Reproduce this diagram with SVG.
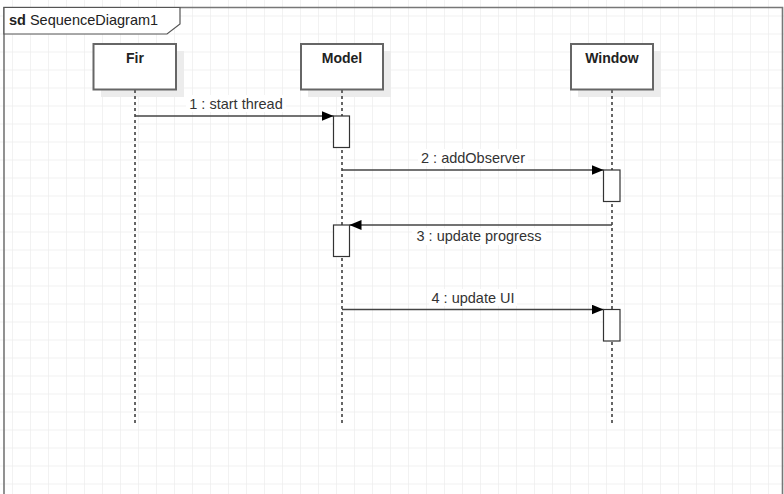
<svg xmlns="http://www.w3.org/2000/svg" width="784" height="494" viewBox="0 0 784 494">
<defs>
<pattern id="grid" x="-5" y="-1.5" width="18" height="18" patternUnits="userSpaceOnUse">
<path d="M18 0V18M0 18H18" fill="none" stroke="#ececec" stroke-width="1.3"/>
</pattern>
<marker id="arr" viewBox="0 0 12 10" refX="12" refY="5" markerWidth="12" markerHeight="10" markerUnits="userSpaceOnUse" orient="auto">
<path d="M0 0L12 5L0 10Z" fill="#000"/>
</marker>
<style>
.lbl{font-family:"Liberation Sans",Arial,sans-serif;font-size:14.5px;fill:#333;text-anchor:middle}
.name{font-family:"Liberation Sans",Arial,sans-serif;font-size:14px;font-weight:bold;fill:#222;text-anchor:middle}
.head{fill:#fff;stroke:#666;stroke-width:2}
.shadow{fill:#ececec}
.life{stroke:#666;stroke-width:2;stroke-dasharray:3 3;fill:none}
.act{fill:#fff;stroke:#333;stroke-width:1.2}
.msg{stroke:#444;stroke-width:1.5;fill:none;marker-end:url(#arr)}
.bg{fill:#fff}
</style>
</defs>
<rect width="784" height="494" fill="#fff"/>
<rect width="784" height="494" fill="url(#grid)"/>
<g id="frame">
<path d="M4 494V7.5H782.5V494" fill="none" stroke="#777" stroke-width="1.6"/>
<path d="M4 7.5H180V24L167 34H4Z" fill="#fff" stroke="#555" stroke-width="1.2"/>
<text x="9" y="25" style="font-family:'Liberation Sans',Arial,sans-serif;font-size:14.5px;fill:#222"><tspan font-weight="bold">sd</tspan> SequenceDiagram1</text>
</g>
<g id="Fir">
<rect class="shadow" x="101" y="51" width="83" height="46"/>
<rect class="head" x="93.5" y="44" width="82.5" height="45.5"/>
<text class="name" x="135" y="62.5">Fir</text>
<line class="life" x1="135" y1="90" x2="135" y2="424"/>
</g>
<g id="Model">
<rect class="shadow" x="308" y="51" width="83" height="46"/>
<rect class="head" x="301" y="44" width="82" height="45.5"/>
<text class="name" x="342" y="62.5">Model</text>
<line class="life" x1="342" y1="90" x2="342" y2="424"/>
<rect class="act" x="333.5" y="116" width="16" height="31.5"/>
<rect class="act" x="333.5" y="225" width="16" height="31.5"/>
</g>
<g id="Window">
<rect class="shadow" x="578" y="51" width="83" height="46"/>
<rect class="head" x="571" y="44" width="82" height="45.5"/>
<text class="name" x="612" y="62.5">Window</text>
<line class="life" x1="612" y1="90" x2="612" y2="424"/>
<rect class="act" x="603.5" y="170" width="16.5" height="31.5"/>
<rect class="act" x="603.5" y="309.5" width="16.5" height="31.5"/>
</g>
<g id="connectors">
<line class="msg" x1="135" y1="116" x2="333.5" y2="116"/>
<rect class="bg" x="186" y="95" width="100" height="17"/>
<text class="lbl" x="236" y="109">1 : start thread</text>
<line class="msg" x1="342" y1="170" x2="603.5" y2="170"/>
<rect class="bg" x="418" y="149" width="110" height="17"/>
<text class="lbl" x="473" y="162.5">2 : addObserver</text>
<line class="msg" x1="612" y1="225" x2="349.5" y2="225"/>
<rect class="bg" x="412" y="228" width="134" height="17"/>
<text class="lbl" x="479" y="241">3 : update progress</text>
<line class="msg" x1="342" y1="309.5" x2="603.5" y2="309.5"/>
<rect class="bg" x="429" y="289" width="88" height="17"/>
<text class="lbl" x="473" y="303">4 : update UI</text>
</g>
</svg>
